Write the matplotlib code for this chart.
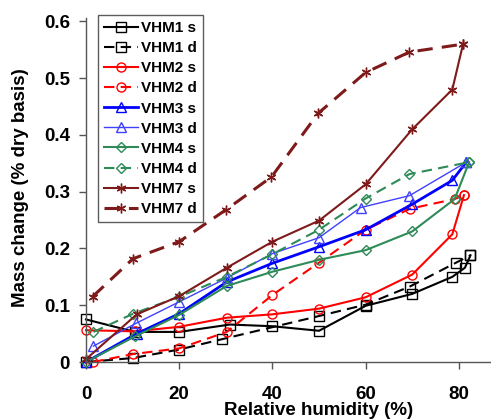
import matplotlib
matplotlib.use("Agg")
import matplotlib.pyplot as plt

plt.rcParams['font.family'] = ['Liberation Sans', 'DejaVu Sans']
plt.rcParams['font.weight'] = 'bold'

# Data (relative humidity %, mass change)
vhm1_s_x = [0, 10.5, 20, 30.9, 40, 50, 60, 70, 78.6, 81.3, 82.5]
vhm1_s_y = [0.075, 0.053, 0.053, 0.066, 0.063, 0.055, 0.099, 0.120, 0.150, 0.166, 0.188]
vhm1_d_x = [0, 10.1, 20, 29.1, 50, 60, 69.5, 79.4, 82.5]
vhm1_d_y = [0.0, 0.007, 0.022, 0.040, 0.081, 0.101, 0.133, 0.175, 0.188]

vhm2_s_x = [0, 10.5, 20, 30.2, 40, 50, 60, 70, 78.6, 81.1]
vhm2_s_y = [0.056, 0.054, 0.062, 0.078, 0.084, 0.094, 0.114, 0.154, 0.225, 0.294]
vhm2_d_x = [1.5, 10.1, 20, 30.2, 40, 50, 60, 69.5, 79.1, 81.1]
vhm2_d_y = [0.0, 0.014, 0.024, 0.053, 0.118, 0.175, 0.233, 0.270, 0.287, 0.294]

vhm3_s_x = [0, 10.9, 20, 30.2, 40, 50, 60, 70, 78.6, 81.6]
vhm3_s_y = [0.0, 0.050, 0.085, 0.141, 0.174, 0.203, 0.233, 0.278, 0.320, 0.352]
vhm3_d_x = [1.6, 10.7, 20, 30.2, 40, 50, 58.9, 69.4, 81.6]
vhm3_d_y = [0.028, 0.068, 0.106, 0.148, 0.191, 0.219, 0.272, 0.293, 0.352]

vhm4_s_x = [0, 10.5, 20, 30.2, 40, 50, 60, 70, 79.1, 82.2]
vhm4_s_y = [0.0, 0.045, 0.083, 0.134, 0.159, 0.180, 0.197, 0.230, 0.287, 0.352]
vhm4_d_x = [1.6, 10.1, 20, 30.2, 40, 50, 60, 69.4, 82.2]
vhm4_d_y = [0.053, 0.085, 0.115, 0.150, 0.190, 0.233, 0.288, 0.331, 0.352]

vhm7_s_x = [0, 10.9, 20, 30.2, 40, 50, 60, 70, 78.6, 80.9]
vhm7_s_y = [0.005, 0.084, 0.116, 0.166, 0.212, 0.249, 0.313, 0.410, 0.480, 0.560]
vhm7_d_x = [1.4, 10.1, 20, 30, 39.8, 49.8, 60, 69.4, 80.9]
vhm7_d_y = [0.115, 0.182, 0.212, 0.268, 0.326, 0.438, 0.510, 0.546, 0.560]

x_ticks = [0, 20, 40, 60, 80]
x_tick_labels = ["0", "20", "40", "60", "80"]
y_ticks = [0, 0.1, 0.2, 0.3, 0.4, 0.5, 0.6]
y_tick_labels = ["0", "0.1", "0.2", "0.3", "0.4", "0.5", "0.6"]

STAR = (6, 2, 0)
DASH = (0, (5, 3))
series = [
    ("VHM1 s", vhm1_s_x, vhm1_s_y, "#000000", "-", "s", 1.5),
    ("VHM1 d", vhm1_d_x, vhm1_d_y, "#000000", DASH, "s", 1.5),
    ("VHM2 s", vhm2_s_x, vhm2_s_y, "#FF0000", "-", "o", 1.5),
    ("VHM2 d", vhm2_d_x, vhm2_d_y, "#FF0000", DASH, "o", 1.5),
    ("VHM3 s", vhm3_s_x, vhm3_s_y, "#0000FF", "-", "^", 2.0),
    ("VHM3 d", vhm3_d_x, vhm3_d_y, "#4040FF", "-", "^", 1.0),
    ("VHM4 s", vhm4_s_x, vhm4_s_y, "#2E8B57", "-", "D", 1.5),
    ("VHM4 d", vhm4_d_x, vhm4_d_y, "#2E8B57", DASH, "D", 1.5),
    ("VHM7 s", vhm7_s_x, vhm7_s_y, "#7F1A1A", "-", STAR, 1.5),
    ("VHM7 d", vhm7_d_x, vhm7_d_y, "#7F1A1A", DASH, STAR, 2.2),
]

fig = plt.figure(figsize=(4.91, 4.19), dpi=100)
fig.patch.set_facecolor("white")
ax = fig.add_axes([86 / 491, (419 - 362) / 419, (491 - 86) / 491, (362 - 18) / 419])

for label, x, y, c, ls, m, lw in series:
    if m == "D":
        ms = 5
    elif m == "^":
        ms = 7
    elif m == STAR:
        ms = 7
    else:
        ms = 6.5
    ax.plot(x, y, color=c, linestyle=ls, linewidth=lw, marker=m,
            markersize=ms, markerfacecolor="none", markeredgecolor=c,
            markeredgewidth=1.0, label=label, clip_on=False)

ax.set_xlim(0, 86.9)
ax.set_ylim(0, 0.606)
ax.set_xticks(x_ticks)
ax.set_xticklabels(x_tick_labels)
ax.set_yticks(y_ticks)
ax.set_yticklabels(y_tick_labels)
ax.spines["top"].set_visible(False)
ax.spines["right"].set_visible(False)
for s in ("left", "bottom"):
    ax.spines[s].set_color("#555555")
    ax.spines[s].set_linewidth(1.0)
ax.tick_params(direction="out", length=5, width=1.0, color="#555555",
               labelsize=13.5)
for t in ax.get_xticklabels() + ax.get_yticklabels():
    t.set_fontweight("bold")
ax.tick_params(axis="x", pad=12.5)
ax.tick_params(axis="y", pad=6.5)

ax.set_xlabel("Relative humidity (%)", fontsize=13.5, fontweight="bold")
ax.xaxis.set_label_coords(0.575, -0.115)
ax.set_ylabel("Mass change (% dry basis)", fontsize=13.5, fontweight="bold")
ax.yaxis.set_label_coords(-0.141, 0.507)

leg = ax.legend(loc="upper left", bbox_to_anchor=(0.0296, 1.0087),
                fontsize=11, frameon=True, fancybox=False, edgecolor="#333333",
                handlelength=2.2, handletextpad=0.2, labelspacing=0.4,
                borderpad=0.4, borderaxespad=0.0)
leg.get_frame().set_linewidth(1.0)
for t in leg.get_texts():
    t.set_fontweight("bold")

fig.savefig("out.png", dpi=100, facecolor="white")
